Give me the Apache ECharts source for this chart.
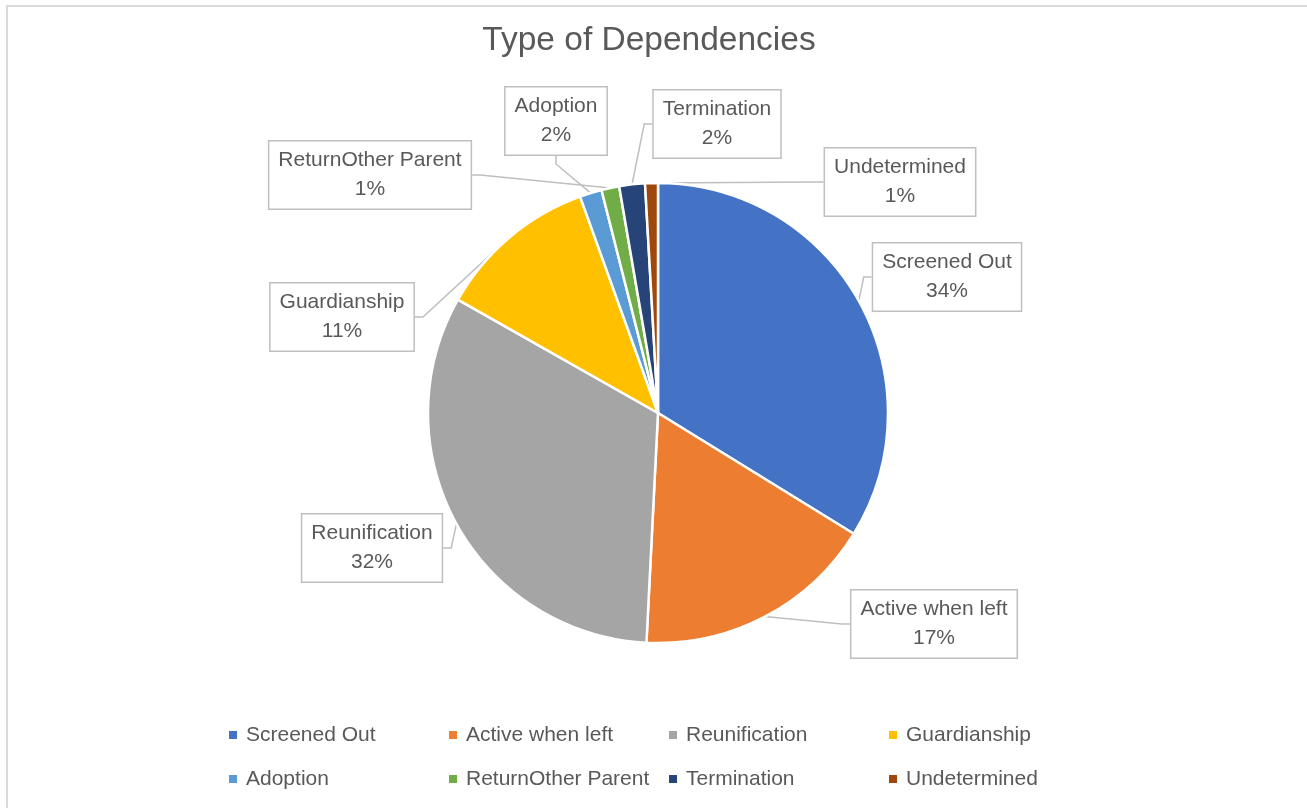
<!DOCTYPE html>
<html>
<head>
<meta charset="utf-8">
<script src="https://cdn.jsdelivr.net/npm/echarts@6/dist/echarts.min.js"></script>
<style>
  html, body { margin: 0; padding: 0; background: #fff; }
  #frame { position: absolute; left: 6px; top: 5px; width: 1320px; height: 820px; border: 2px solid #d9d9d9; box-sizing: border-box; }
  #chart { position: absolute; left: 0; top: 0; width: 1307px; height: 808px; }
</style>
</head>
<body>
<div id="frame"></div>
<div id="chart"></div>
<script>
// 数据
var categories = ['Screened Out', 'Active when left', 'Reunification', 'Guardianship',
                  'Adoption', 'ReturnOther Parent', 'Termination', 'Undetermined'];
var shares = [33.8, 17.0, 32.4, 11.3, 1.55, 1.25, 1.8, 0.9];
var colors = ['#4472C4', '#ED7D31', '#A5A5A5', '#FFC000', '#5B9BD5', '#70AD47', '#264478', '#9E480E'];

// callout 框的中心位置（布局用）
var labelCenters = [
    [947, 277], [934, 624], [372, 548], [342, 317],
    [556, 121], [370, 175], [717, 124], [900, 182]
];

var font = 'Liberation Sans';
var textColor = '#595959';

var chart = echarts.init(document.getElementById('chart'));

var pieData = categories.map(function (name, i) {
    return { name: name, value: shares[i], itemStyle: { color: colors[i] } };
});

// 图例：4 列 2 行
var legends = [];
for (var c = 0; c < 4; c++) {
    legends.push({
        orient: 'vertical',
        left: 224 + c * 220,
        top: 718,
        itemWidth: 8,
        itemHeight: 8,
        itemGap: 20,
        icon: 'rect',
        selectedMode: false,
        itemStyle: { borderWidth: 0 },
        data: [categories[c], categories[c + 4]],
        textStyle: {
            color: textColor,
            fontSize: 21,
            fontFamily: font,
            lineHeight: 24,
            padding: [0, 0, 0, 4]
        }
    });
}

var option = {
    animation: false,
    backgroundColor: 'transparent',
    title: {
        text: 'Type of Dependencies',
        left: 644,
        textAlign: 'center',
        top: 19,
        textStyle: {
            color: textColor,
            fontSize: 33.5,
            fontWeight: 'normal',
            fontFamily: font
        }
    },
    legend: legends,
    series: [{
        name: 'Type of Dependencies',
        type: 'pie',
        center: [658, 413],
        radius: 230,
        startAngle: 90,
        clockwise: true,
        avoidLabelOverlap: false,
        itemStyle: {
            borderColor: '#ffffff',
            borderWidth: 2.5
        },
        label: {
            show: true,
            position: 'outside',
            color: textColor,
            fontSize: 21,
            fontFamily: font,
            lineHeight: 29,
            align: 'center',
            backgroundColor: '#ffffff',
            borderColor: '#bfbfbf',
            borderWidth: 1.5,
            padding: [5, 9, 4, 9],
            formatter: function (p) {
                return p.name + '\n' + Math.round(p.percent) + '%';
            }
        },
        labelLine: {
            show: true,
            length: 8,
            length2: 8,
            smooth: false,
            lineStyle: { color: '#bfbfbf', width: 1.5 }
        },
        labelLayout: function (params) {
            var pos = labelCenters[params.dataIndex];
            return {
                x: pos[0],
                y: pos[1],
                align: 'center',
                verticalAlign: 'middle'
            };
        },
        emphasis: { disabled: true },
        data: pieData
    }]
};

chart.setOption(option);
</script>
</body>
</html>
